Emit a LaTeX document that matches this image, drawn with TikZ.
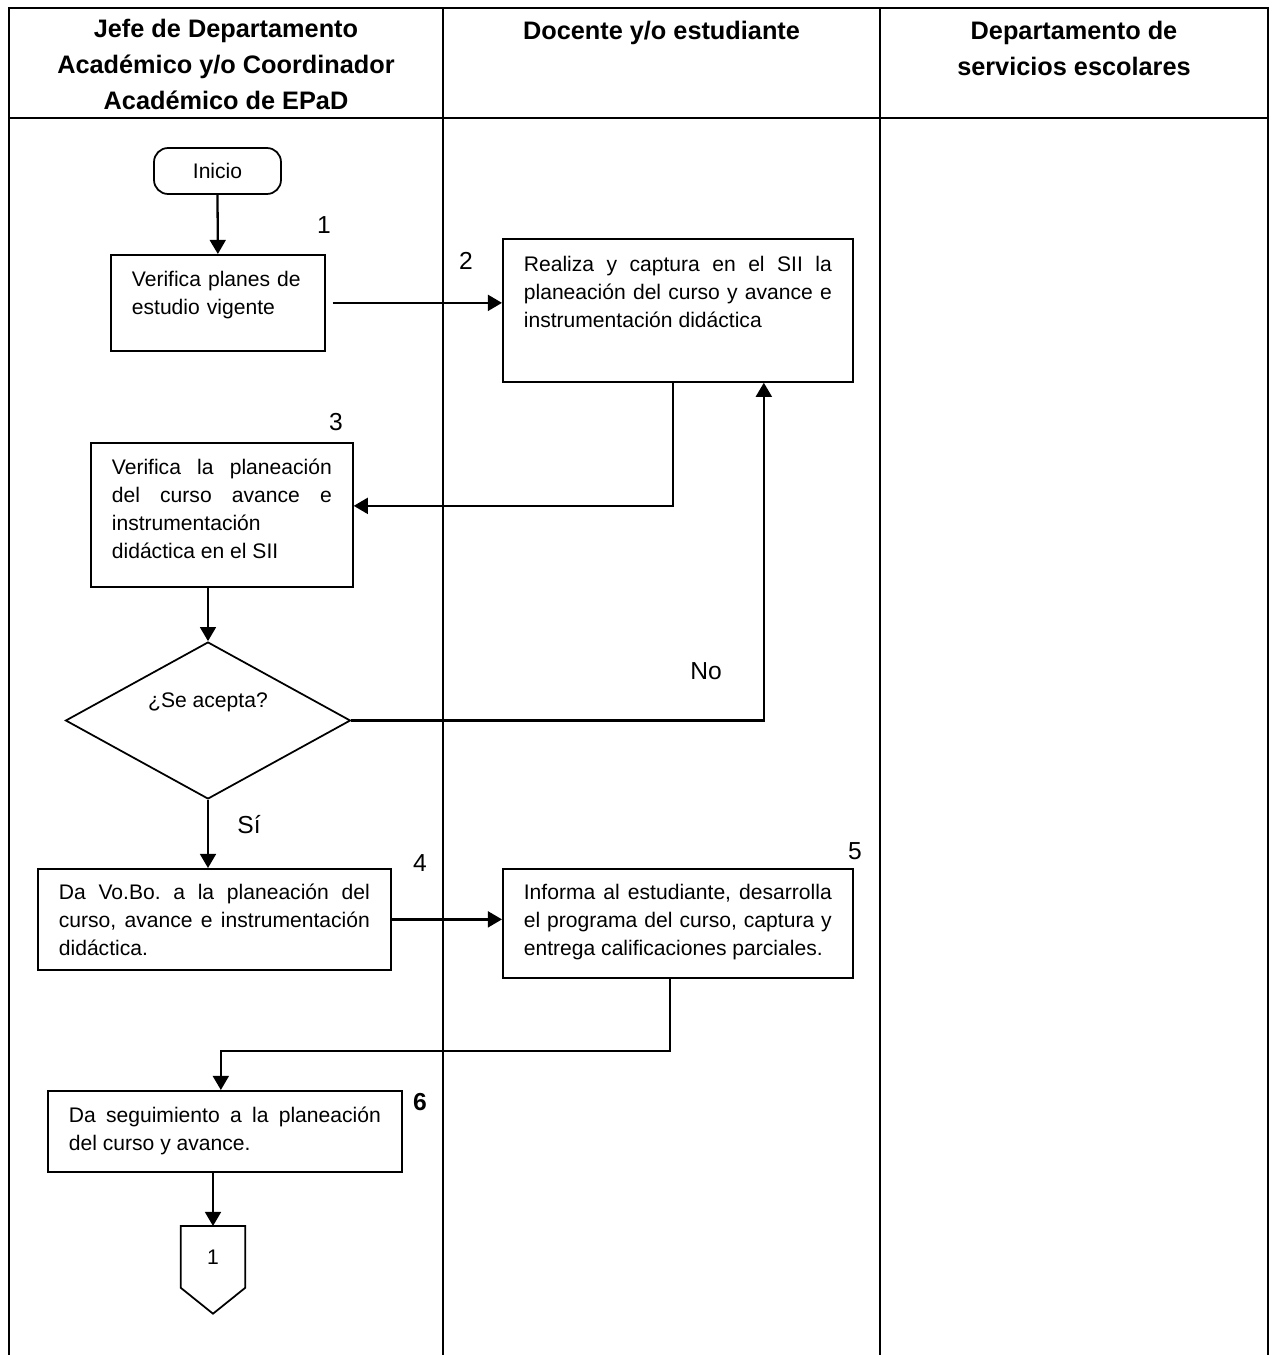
\documentclass[tikz,border=0pt]{standalone}
\usepackage{fontspec}
\setmainfont{Liberation Sans}
\usetikzlibrary{shapes,arrows,positioning,calc,arrows.meta}
\frenchspacing

\begin{document}
\begin{tikzpicture}[
        x=0.02cm, y=-0.02cm,
        every node/.style={font=\fontsize{12}{15.8}\selectfont},
        proc/.style={rectangle, draw=black, line width=1pt, anchor=north west, align=justify, inner ysep=0pt, inner xsep=0.42cm},
        start/.style={rectangle, draw=black, line width=1pt, rounded corners=8pt, minimum width=2.54cm, minimum height=0.92cm},
        decision/.style={diamond, draw=black, line width=1pt, inner sep=0pt, shape aspect=1.8, minimum width=5.7cm, minimum height=3.14cm},
        arrow/.style={-{Triangle[length=8pt,width=9pt]}, line width=1.3pt},
        stepnum/.style={font=\fontsize{14}{16}\selectfont},
        lanehead/.style={font=\bfseries\fontsize{14.4}{20.5}\selectfont, align=center, anchor=north, inner sep=0pt},
        lane/.style={line width=1.1pt},
    ]
        \useasboundingbox (0,0) rectangle (1277,1355);

        % swimlanes
        \draw[lane] (9,1355) -- (9,8) -- (1268,8) -- (1268,1355);
        \draw[lane] (9,118) -- (1268,118);
        \draw[lane] (443,8) -- (443,1355);
        \draw[lane] (880,8) -- (880,1355);

        \node[lanehead] (jefe) at (226,18.5) {Jefe de Departamento\\Académico y/o Coordinador\\Académico de EPaD};
        \node[lanehead] (docente) at (661.5,20.5) {Docente y/o estudiante};
        \node[lanehead] (escolares) at (1074,20.5) {Departamento de\\servicios escolares};

        % steps
        \node[start] (ini) at (217.5,171) {Inicio};
        \node[proc, align=left, text width=3.44cm, text height=0.64cm, text depth=1.28cm] (verif) at (110,254)
            {Verifica planes de\\estudio vigente};
        \node[proc, text width=6.16cm, text height=0.66cm, text depth=2.2cm] (realiza) at (502,238)
            {Realiza y captura en el SII la\linebreak planeación del curso y avance e\linebreak instrumentación didáctica};
        \node[proc, text width=4.4cm, text height=0.64cm, text depth=2.24cm] (plan) at (90,442)
            {Verifica la planeación\linebreak del curso avance e\linebreak instrumentación\\didáctica en el SII};
        \node[decision, text height=9pt, text depth=24pt] (acepta) at (208,720.5) {¿Se acepta?};
        \node[proc, text width=6.22cm, text height=0.62cm, text depth=1.4cm] (vobo) at (37,868)
            {Da Vo.Bo. a la planeación del\linebreak curso, avance e instrumentación\linebreak didáctica.};
        \node[proc, text width=6.16cm, text height=0.62cm, text depth=1.56cm] (informa) at (502,868)
            {Informa al estudiante, desarrolla\linebreak el programa del curso, captura y\linebreak entrega calificaciones parciales.};
        \node[proc, text width=6.24cm, text height=0.64cm, text depth=0.98cm] (segui) at (47,1090)
            {Da seguimiento a la planeación\linebreak del curso y avance.};
        \node[inner sep=0pt, minimum width=1.28cm, minimum height=1.22cm, anchor=north] (con) at (213,1226) {1};
        \draw[line width=1pt] (con.north west) -- (con.south west) -- ($(con.south)+(0,26)$)
            -- (con.south east) -- (con.north east) -- cycle;

        % step numbers and answers
        \node[stepnum] (n1) at (324,225) {1};
        \node[stepnum] (n2) at (466,261) {2};
        \node[stepnum] (n3) at (336,422) {3};
        \node[stepnum] (n4) at (420,863) {4};
        \node[stepnum] (n5) at (855,851) {5};
        \node[stepnum, font=\bfseries\fontsize{14}{16}\selectfont] (n6) at (420,1102) {6};
        \node[stepnum] (no) at (706,671) {No};
        \node[stepnum] (si) at (249,825) {Sí};

        % flow
        \draw[arrow] (ini.south) -- (verif.north);
        \draw[arrow, shorten <=4pt] (verif.east) -- (verif.east -| realiza.west);
        \draw[arrow] ([xshift=-0.1cm]realiza.south) |- ([yshift=0.18cm]plan.east);
        \draw[arrow] (plan.south -| acepta.north) -- (acepta.north);
        \draw[arrow] (acepta.east) -| ([xshift=1.72cm]realiza.south);
        \draw[arrow] (acepta.south) -- (acepta.south |- vobo.north);
        \draw[arrow] (vobo.east) -- (vobo.east -| informa.west);
        \draw[arrow] ([xshift=-0.16cm]informa.south) -- ++(0,72) -| ([xshift=-0.08cm]segui.north);
        \draw[arrow] (con.north |- segui.south) -- (con.north);

    \end{tikzpicture}
\end{document}
